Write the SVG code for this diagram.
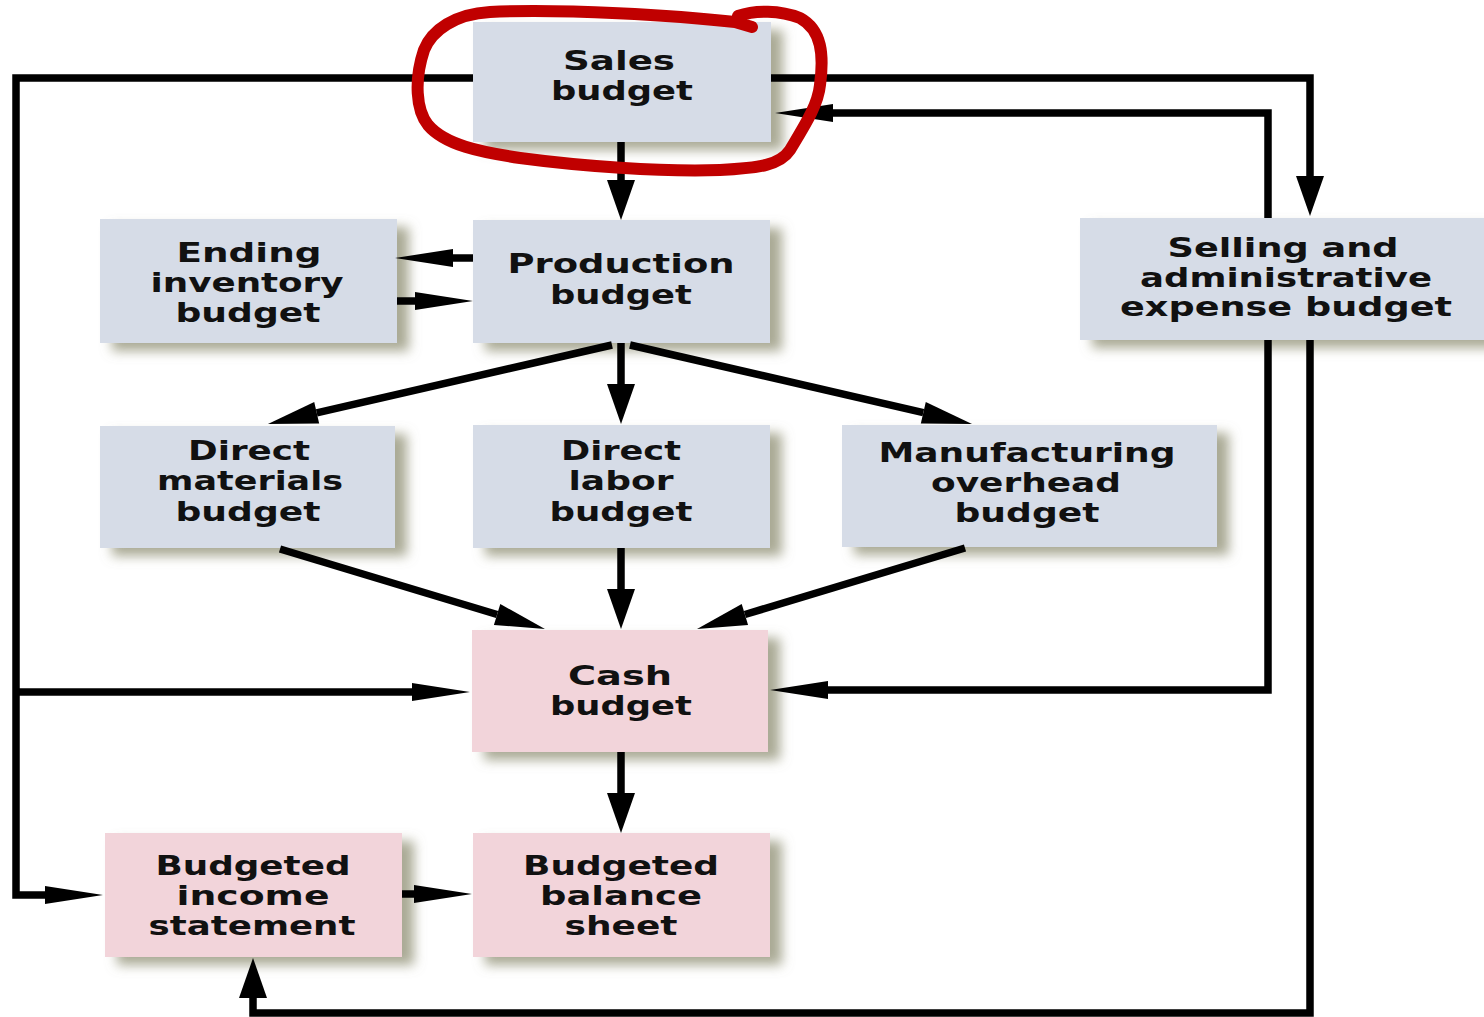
<svg xmlns="http://www.w3.org/2000/svg" width="1484" height="1017" viewBox="0 0 1484 1017">
  <style>
    .box { filter: url(#shadow); }
    .blue { fill: #d6dce7; }
    .pink { fill: #f2d4da; }
    .lbl { font-family: "DejaVu Sans", "Liberation Sans", sans-serif; font-weight: bold; font-size: 26px; fill: #111; text-anchor: middle; }
    .wire { fill: none; stroke: #000; stroke-width: 7.5; stroke-linejoin: miter; }
    .h { marker-end: url(#headLong); }
    .v { marker-end: url(#headStout); }
    .d { marker-end: url(#headDiag); }
    .ink { fill: none; stroke: #c00000; stroke-width: 12; stroke-linecap: round; stroke-linejoin: round; }
  </style>
  <defs>
    <filter id="shadow" x="-10%" y="-10%" width="130%" height="140%">
      <feDropShadow dx="12" dy="8" stdDeviation="6" flood-color="#94947a" flood-opacity="0.8"/>
    </filter>
    <marker id="headLong" markerUnits="userSpaceOnUse" markerWidth="58" markerHeight="18" refX="0" refY="9" orient="auto" overflow="visible">
      <path d="M0,0 L58,9 L0,18 Z" fill="#000"/>
    </marker>
    <marker id="headStout" markerUnits="userSpaceOnUse" markerWidth="40" markerHeight="28" refX="0" refY="14" orient="auto" overflow="visible">
      <path d="M0,0 L40,14 L0,28 Z" fill="#000"/>
    </marker>
    <marker id="headDiag" markerUnits="userSpaceOnUse" markerWidth="50" markerHeight="22" refX="0" refY="11" orient="auto" overflow="visible">
      <path d="M0,0 L50,11 L0,22 Z" fill="#000"/>
    </marker>
  </defs>

  <rect width="1484" height="1017" fill="#fff"/>

  <g id="sales">
    <rect class="box blue" x="473" y="22" width="298" height="120"/>
    <text class="lbl" x="619" y="70" textLength="112" lengthAdjust="spacingAndGlyphs">Sales</text>
    <text class="lbl" x="622" y="100" textLength="142" lengthAdjust="spacingAndGlyphs">budget</text>
  </g>

  <g id="ending-inventory">
    <rect class="box blue" x="100" y="219" width="297" height="124"/>
    <text class="lbl" x="249" y="262" textLength="145" lengthAdjust="spacingAndGlyphs">Ending</text>
    <text class="lbl" x="247" y="292" textLength="193" lengthAdjust="spacingAndGlyphs">inventory</text>
    <text class="lbl" x="248" y="322" textLength="145" lengthAdjust="spacingAndGlyphs">budget</text>
  </g>

  <g id="production">
    <rect class="box blue" x="473" y="220" width="297" height="123"/>
    <text class="lbl" x="621" y="273" textLength="227" lengthAdjust="spacingAndGlyphs">Production</text>
    <text class="lbl" x="621" y="304" textLength="142" lengthAdjust="spacingAndGlyphs">budget</text>
  </g>

  <g id="selling-admin">
    <rect class="box blue" x="1080" y="218" width="420" height="122"/>
    <text class="lbl" x="1283" y="257" textLength="231" lengthAdjust="spacingAndGlyphs">Selling and</text>
    <text class="lbl" x="1286" y="287" textLength="292" lengthAdjust="spacingAndGlyphs">administrative</text>
    <text class="lbl" x="1286" y="316" textLength="332" lengthAdjust="spacingAndGlyphs">expense budget</text>
  </g>

  <g id="direct-materials">
    <rect class="box blue" x="100" y="426" width="295" height="122"/>
    <text class="lbl" x="249" y="460" textLength="122" lengthAdjust="spacingAndGlyphs">Direct</text>
    <text class="lbl" x="250" y="490" textLength="186" lengthAdjust="spacingAndGlyphs">materials</text>
    <text class="lbl" x="248" y="521" textLength="145" lengthAdjust="spacingAndGlyphs">budget</text>
  </g>

  <g id="direct-labor">
    <rect class="box blue" x="473" y="425" width="297" height="123"/>
    <text class="lbl" x="621" y="460" textLength="120" lengthAdjust="spacingAndGlyphs">Direct</text>
    <text class="lbl" x="621" y="490" textLength="105" lengthAdjust="spacingAndGlyphs">labor</text>
    <text class="lbl" x="621" y="521" textLength="143" lengthAdjust="spacingAndGlyphs">budget</text>
  </g>

  <g id="manufacturing-overhead">
    <rect class="box blue" x="842" y="425" width="375" height="122"/>
    <text class="lbl" x="1027" y="462" textLength="297" lengthAdjust="spacingAndGlyphs">Manufacturing</text>
    <text class="lbl" x="1026" y="492" textLength="190" lengthAdjust="spacingAndGlyphs">overhead</text>
    <text class="lbl" x="1027" y="522" textLength="145" lengthAdjust="spacingAndGlyphs">budget</text>
  </g>

  <g id="cash">
    <rect class="box pink" x="472" y="630" width="296" height="122"/>
    <text class="lbl" x="620" y="685" textLength="104" lengthAdjust="spacingAndGlyphs">Cash</text>
    <text class="lbl" x="621" y="715" textLength="142" lengthAdjust="spacingAndGlyphs">budget</text>
  </g>

  <g id="income-statement">
    <rect class="box pink" x="105" y="833" width="297" height="124"/>
    <text class="lbl" x="253" y="875" textLength="195" lengthAdjust="spacingAndGlyphs">Budgeted</text>
    <text class="lbl" x="253" y="905" textLength="153" lengthAdjust="spacingAndGlyphs">income</text>
    <text class="lbl" x="252" y="935" textLength="207" lengthAdjust="spacingAndGlyphs">statement</text>
  </g>

  <g id="balance-sheet">
    <rect class="box pink" x="473" y="833" width="297" height="124"/>
    <text class="lbl" x="621" y="875" textLength="196" lengthAdjust="spacingAndGlyphs">Budgeted</text>
    <text class="lbl" x="621" y="905" textLength="162" lengthAdjust="spacingAndGlyphs">balance</text>
    <text class="lbl" x="621" y="935" textLength="113" lengthAdjust="spacingAndGlyphs">sheet</text>
  </g>

  <g id="connectors">
    <!-- sales feeds round the left side into cash and income statement -->
    <path class="wire h" d="M473,78 H16 V895 H45"/>
    <path class="wire h" d="M16,692 H412"/>
    <!-- sales to selling & admin, and back -->
    <path class="wire v" d="M771,78 H1310 V176"/>
    <path class="wire h" d="M1268,218 V113 H833"/>
    <!-- selling & admin to cash and to income statement -->
    <path class="wire h" d="M1268,340 V690 H828"/>
    <path class="wire v" d="M1310,340 V1013 H253 V998"/>
    <!-- sales to production -->
    <path class="wire v" d="M621,142 V180"/>
    <!-- production and ending inventory -->
    <path class="wire h" d="M473,258 H453"/>
    <path class="wire h" d="M397,301 H415"/>
    <!-- production to the three cost budgets -->
    <path class="wire v" d="M621,343 V384"/>
    <path class="wire d" d="M612,345 L316.7,412.8"/>
    <path class="wire d" d="M630,345 L923.3,412.7"/>
    <!-- cost budgets to cash -->
    <path class="wire d" d="M280,549 L497.1,614.5"/>
    <path class="wire v" d="M621,548 V589"/>
    <path class="wire d" d="M965,548 L744.9,614.5"/>
    <!-- cash to balance sheet, income statement to balance sheet -->
    <path class="wire v" d="M621,752 V793"/>
    <path class="wire h" d="M402,894 H414"/>
  </g>

  <!-- hand-drawn emphasis loop around the sales budget -->
  <path id="highlight" class="ink" d="M752,27 L735,22 C680,16 560,8 490,12 C455,14 432,30 424,50 C414,80 416,110 428,125 C445,145 480,152 520,158 C580,166 660,172 720,170 C760,168 780,165 790,150 C805,125 818,105 820,85 C824,55 822,30 800,18 C780,10 755,10 738,16"/>
</svg>
